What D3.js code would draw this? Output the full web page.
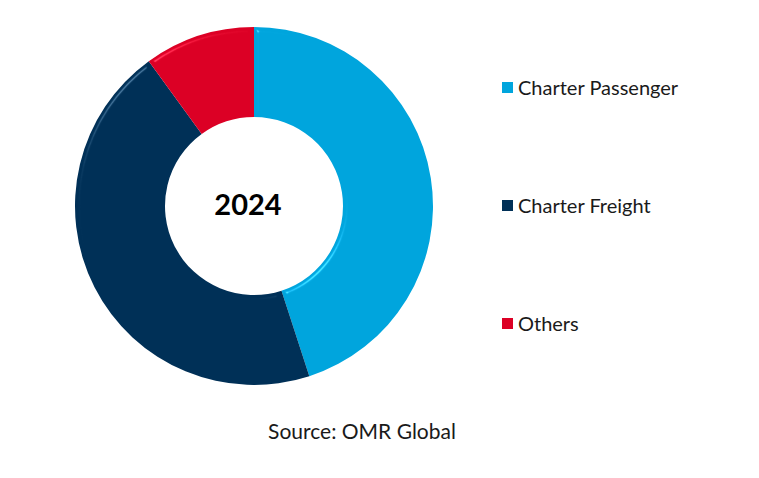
<!DOCTYPE html>
<html>
<head>
<meta charset="utf-8">
<script src="https://cdn.jsdelivr.net/npm/d3@7"></script>
<style>
  body { margin: 0; background: #fff; }
  svg { display: block; }
</style>
</head>
<body>
<svg id="chart" width="759" height="478"></svg>
<script>
// data (shares in %)
const categories = ["Charter Passenger", "Charter Freight", "Others"];
const shares = [45, 45, 10];
const colors = ["#00a5dd", "#003057", "#dc0025"];
const centerLabel = "2024";
const sourceText = "Source: OMR Global";

const svg = d3.select("#chart");
const cx = 254, cy = 206;
const outerR = 179, innerR = 89;

// soft bevel on the slice edges
const defs = svg.append("defs");
const f = defs.append("filter").attr("id", "bevel")
    .attr("color-interpolation-filters", "sRGB")
    .attr("x", "-10%").attr("y", "-10%").attr("width", "120%").attr("height", "120%");
f.append("feGaussianBlur").attr("in", "SourceAlpha").attr("stdDeviation", 2.5).attr("result", "blur");
f.append("feSpecularLighting").attr("in", "blur").attr("surfaceScale", 4)
    .attr("specularConstant", 0.8).attr("specularExponent", 60)
    .attr("lighting-color", "#ffffff").attr("result", "spec")
  .append("feDistantLight").attr("azimuth", 225).attr("elevation", 35);
f.append("feComposite").attr("in", "spec").attr("in2", "SourceAlpha")
    .attr("operator", "in").attr("result", "specIn");
f.append("feComposite").attr("in", "SourceGraphic").attr("in2", "specIn")
    .attr("operator", "arithmetic").attr("k1", 0).attr("k2", 1).attr("k3", 0.35).attr("k4", 0);

const pie = d3.pie().sort(null).value(d => d);
const arc = d3.arc().innerRadius(innerR).outerRadius(outerR);

const g = svg.append("g").attr("transform", `translate(${cx},${cy})`);
g.selectAll("path")
  .data(pie(shares))
  .join("path")
    .attr("d", arc)
    .attr("fill", (d, i) => colors[i])
    .attr("filter", "url(#bevel)");

g.append("text")
    .attr("x", -6).attr("y", -3)
    .attr("text-anchor", "middle")
    .attr("dominant-baseline", "central")
    .style("font-family", "Lato, 'Open Sans', sans-serif")
    .style("font-weight", "bold")
    .style("font-size", "29px")
    .attr("fill", "#000")
    .text(centerLabel);

// legend
const legendY = d3.scalePoint().domain(categories).range([87, 323]);
const legend = svg.append("g");
const item = legend.selectAll("g")
  .data(categories)
  .join("g")
    .attr("transform", d => `translate(502,${legendY(d)})`);
item.append("rect")
    .attr("x", 0).attr("y", -5)
    .attr("width", 11).attr("height", 11)
    .attr("fill", (d, i) => colors[i]);
item.append("text")
    .attr("x", 16).attr("y", 0)
    .attr("dominant-baseline", "central")
    .style("font-family", "Lato, 'Open Sans', sans-serif")
    .style("font-size", "20px")
    .attr("fill", "#1a1a1a")
    .text(d => d);

svg.append("text")
    .attr("x", 362).attr("y", 430)
    .attr("text-anchor", "middle")
    .attr("dominant-baseline", "central")
    .style("font-family", "Lato, 'Open Sans', sans-serif")
    .style("font-size", "21px")
    .attr("fill", "#1a1a1a")
    .text(sourceText);
</script>
</body>
</html>
